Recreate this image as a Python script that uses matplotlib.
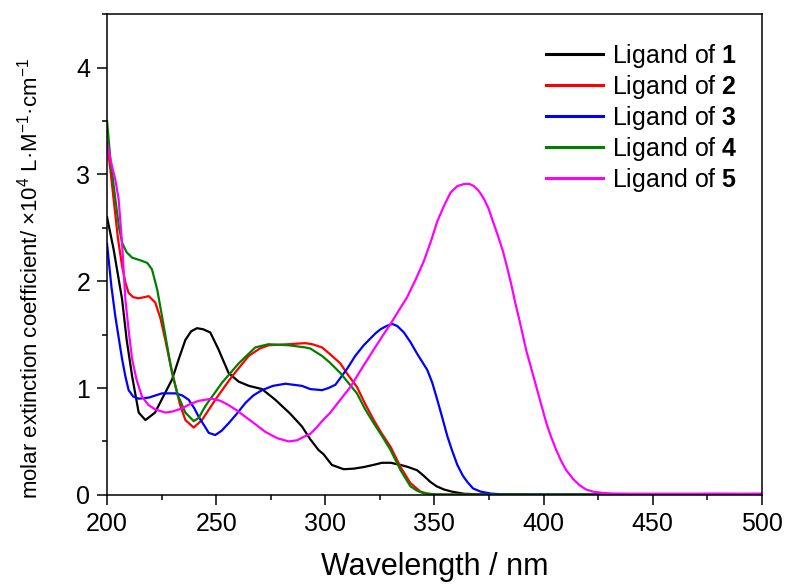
import matplotlib
matplotlib.use("Agg")
import matplotlib.pyplot as plt
from matplotlib.ticker import MultipleLocator

plt.rcParams['font.family'] = ['Liberation Sans', 'DejaVu Sans']
plt.rcParams['mathtext.fontset'] = 'custom'
plt.rcParams['mathtext.rm'] = 'Liberation Sans'
plt.rcParams['mathtext.bf'] = 'Liberation Sans:bold'

# ==========================================
# DATOS
# ==========================================

wl_1 = [200, 203, 206.9, 209, 211.5, 214.5, 217.6, 222, 226, 229.8, 233, 235.9,
        238.5, 241.2, 244, 247.3, 251.1, 255.7, 260.3, 265, 271, 277.1, 283.9,
        289.3, 293.1, 296.9, 299.2, 303, 308.4, 313, 317.6, 322, 326, 330, 334.5,
        338, 342.1, 345, 348.2, 351, 354.4, 358, 363.6, 370, 380, 400, 450, 500]
eps_1 = [2.6, 2.3, 1.83, 1.45, 1.11, 0.77, 0.70, 0.77, 0.93, 1.08, 1.28, 1.45,
         1.53, 1.56, 1.55, 1.52, 1.36, 1.14, 1.06, 1.02, 0.99, 0.89, 0.76,
         0.64, 0.52, 0.42, 0.38, 0.28, 0.24, 0.245, 0.26, 0.28, 0.30, 0.30, 0.28,
         0.26, 0.23, 0.18, 0.12, 0.08, 0.05, 0.03, 0.01, 0.005, 0.003, 0.002, 0.002, 0.002]

wl_2 = [200, 201.5, 203, 205, 206.9, 208.5, 209.9, 212, 214.5, 217, 219.1, 222.1,
        224.5, 226.7, 229, 231.3, 233.5, 235.9, 239.7, 243.5, 249.6, 257.3, 264.9,
        270, 274, 283.2, 290.8, 294, 298.5, 302, 306.9, 310.5, 314.5, 318.3, 322.2,
        326, 329.9, 334.5, 339, 343.6, 347, 352, 360, 400, 450, 500]
eps_2 = [3.3, 3.05, 2.77, 2.4, 2.14, 1.98, 1.89, 1.85, 1.84, 1.85, 1.86, 1.80,
         1.65, 1.45, 1.22, 1.02, 0.84, 0.70, 0.63, 0.70, 0.89, 1.11, 1.30,
         1.37, 1.40, 1.41, 1.42, 1.41, 1.38, 1.32, 1.23, 1.12, 1.01, 0.85, 0.70,
         0.57, 0.45, 0.26, 0.11, 0.03, 0.01, 0.003, 0.002, 0.002, 0.002, 0.002]

wl_3 = [200, 202, 203.8, 205.5, 206.9, 208.5, 209.9, 212, 214.5, 219.1, 225.2, 231.3,
        234.5, 237.4, 240, 242, 244.5, 246.6, 249.6, 252.5, 255.7, 259.5, 263.4, 267,
        271, 276, 281.7, 289.3, 293.1, 298.5, 301.5, 304.6, 310, 313.7, 317.6, 322.9,
        325.3, 328, 330.6, 333, 336, 339, 342.1, 346.7, 349, 351.3, 353.5, 355.9, 358,
        360.5, 363, 365.1, 367.7, 371.2, 375.8, 380, 400, 450, 500]
eps_3 = [2.35, 1.95, 1.67, 1.45, 1.27, 1.1, 0.98, 0.92, 0.90, 0.91, 0.95, 0.95,
         0.93, 0.89, 0.81, 0.73, 0.65, 0.58, 0.56, 0.60, 0.67, 0.76, 0.86, 0.93,
         0.98, 1.02, 1.04, 1.02, 0.99, 0.98, 1.00, 1.03, 1.18, 1.30, 1.40, 1.51,
         1.55, 1.58, 1.60, 1.58, 1.52, 1.43, 1.32, 1.17, 1.05, 0.89, 0.73, 0.55, 0.42,
         0.28, 0.18, 0.12, 0.06, 0.03, 0.012, 0.006, 0.003, 0.002, 0.002]

wl_4 = [200, 201.5, 203.8, 205.5, 206.9, 209, 211.5, 216, 218.5, 220.6, 223, 225.2,
        227.5, 229.8, 232.5, 235.9, 239.7, 242, 245, 252.7, 260.3, 267.9, 274, 283.2,
        290.8, 293.1, 298.5, 302, 306.9, 310.5, 314.5, 318.3, 322.2, 326, 329.9, 334.5,
        339, 342, 345, 350, 360, 400, 450, 500]
eps_4 = [3.5, 3.15, 2.77, 2.5, 2.36, 2.27, 2.22, 2.19, 2.17, 2.11, 1.92, 1.67,
         1.40, 1.14, 0.93, 0.77, 0.69, 0.72, 0.83, 1.05, 1.23, 1.38, 1.41, 1.40,
         1.38, 1.37, 1.30, 1.24, 1.14, 1.05, 0.95, 0.80, 0.67, 0.55, 0.42, 0.23,
         0.08, 0.04, 0.015, 0.005, 0.002, 0.002, 0.002, 0.002]

wl_5 = [200, 202, 203.8, 205.3, 206.9, 208.4, 210, 211.5, 213.5, 216, 219, 222.1,
        226.7, 230, 234.4, 238, 242, 248.1, 252, 255.7, 259.5, 263.4, 268, 272.5, 278,
        283.2, 287, 290.8, 293.1, 296, 298.5, 302.3, 306.5, 311.5, 316, 322.2, 326,
        329.9, 333.5, 337.5, 341.5, 345.2, 348.5, 351.3, 354.5, 357.4, 360.5, 363.6,
        366, 368.1, 370.5, 372.7, 374.8, 376.8, 379, 381.4, 383.3, 385.2, 387, 389,
        392.1, 394.4, 396.7, 399, 401.3, 403.5, 405.8, 408, 410.4, 413.5, 416.5,
        419.5, 422.6, 427, 431.8, 440, 450, 460, 470, 480, 490, 500]
eps_5 = [3.3, 3.1, 2.95, 2.77, 2.35, 1.83, 1.52, 1.27, 1.08, 0.92, 0.84, 0.80,
         0.77, 0.78, 0.81, 0.85, 0.88, 0.90, 0.88, 0.84, 0.79, 0.73, 0.66, 0.59, 0.53,
         0.50, 0.51, 0.55, 0.57, 0.63, 0.69, 0.77, 0.88, 1.01, 1.16, 1.36, 1.48,
         1.60, 1.72, 1.85, 2.02, 2.19, 2.38, 2.56, 2.71, 2.83, 2.89, 2.91,
         2.91, 2.89, 2.84, 2.77, 2.68, 2.56, 2.43, 2.28, 2.13, 1.97, 1.80, 1.63,
         1.35, 1.18, 1.01, 0.84, 0.67, 0.54, 0.42, 0.32, 0.23, 0.15, 0.09,
         0.05, 0.03, 0.018, 0.012, 0.01, 0.01, 0.01, 0.01, 0.012, 0.01, 0.012]

etiquetas = [r"Ligand of $\mathbf{1}$", r"Ligand of $\mathbf{2}$",
             r"Ligand of $\mathbf{3}$", r"Ligand of $\mathbf{4}$",
             r"Ligand of $\mathbf{5}$"]
colores = ["black", "#ff0000", "#0000ff", "#008000", "#ff00ff"]

# ==========================================
# FIGURA
# ==========================================

fig = plt.figure(figsize=(7.87, 5.87), dpi=100)
ax = fig.add_axes([0.136, 0.157, 0.832, 0.819])

series = [(wl_1, eps_1), (wl_2, eps_2), (wl_3, eps_3), (wl_4, eps_4), (wl_5, eps_5)]
for (x, y), lab, col in zip(series, etiquetas, colores):
    ax.plot(x, y, color=col, lw=1.6, label=lab)

ax.set_xlim(200, 500)
ax.set_ylim(0, 4.5)
ax.xaxis.set_major_locator(MultipleLocator(50))
ax.xaxis.set_minor_locator(MultipleLocator(25))
ax.yaxis.set_major_locator(MultipleLocator(1))
ax.yaxis.set_minor_locator(MultipleLocator(0.5))

ax.tick_params(which="major", direction="out", length=7, width=1.1,
               labelsize=18, pad=5)
ax.tick_params(which="minor", direction="out", length=3.5, width=1.1)
for s in ax.spines.values():
    s.set_linewidth(1.1)

ax.set_xlabel("Wavelength / nm", fontsize=22, va="center")
ax.xaxis.set_label_coords(0.5, -0.15)
ax.set_ylabel("molar extinction coefficient/ ×10$^{4}$ L·M$^{-1}$·cm$^{-1}$",
              fontsize=16, va="center")
ax.yaxis.set_label_coords(-0.118, 0.45)

leg = ax.legend(loc="upper left", bbox_to_anchor=(0.67, 0.942), frameon=False,
                fontsize=18, handlelength=2.3, handletextpad=0.35,
                labelspacing=0.12, borderpad=0, borderaxespad=0)
for h in leg.get_lines():
    h.set_linewidth(2.2)

fig.savefig("out.png", dpi=100)
